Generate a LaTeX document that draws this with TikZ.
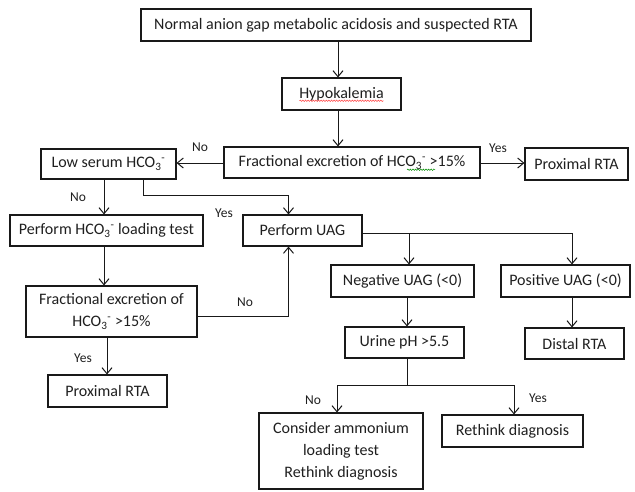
\documentclass[tikz,border=0pt]{standalone}
\usepackage{fontspec}
\setmainfont{Carlito}
\usetikzlibrary{arrows.meta,calc,decorations.pathmorphing}
\newcommand\hcoion{HCO\textsubscript{3}\textsuperscript{-}}
\begin{document}
\begin{tikzpicture}[x=1pt,y=-1pt,
  box/.style={draw=black!90, line width=1.1pt, inner sep=0pt, align=center,
    text=black!88, font=\fontsize{16}{22}\selectfont},
  lbl/.style={text=black!88, font=\fontsize{13.5}{16}\selectfont, inner sep=0pt},
  arr/.style={draw=black!90, line width=1pt, -{Straight Barb[length=6pt,width=10pt]}},
  ln/.style={draw=black!90, line width=1pt},
  squig/.style={decorate, decoration={snake, amplitude=0.7pt, segment length=2.6pt}, line width=0.5pt}]
\useasboundingbox (0,0) rectangle (635,491);
% columns and rows
\coordinate (cA) at (338,0);
\coordinate (cB) at (104,0);
\coordinate (cB2) at (107,0);
\coordinate (cC) at (143,0);
\coordinate (cD) at (288.5,0);
\coordinate (cE) at (409,0);
\coordinate (cF) at (572,0);
\coordinate (cG) at (407,0);
\coordinate (cH) at (337,0);
\coordinate (cI) at (514,0);
\coordinate (r1) at (0,163);
\coordinate (rY) at (0,195);
\coordinate (rU) at (0,233);
\coordinate (rN) at (0,316);
\coordinate (rJ) at (0,385);
% nodes
\node[box, minimum width=390pt, minimum height=32pt] (top) at (336,25) {Normal anion gap metabolic acidosis and suspected RTA};
\node[box, minimum width=119pt, minimum height=32pt] (hypo) at (341.5,94) {Hypokalemia};
\node[box, minimum width=256pt, minimum height=31pt] (frac1) at (352,162.5) {Fractional excretion of \hcoion\ >15\%};
\node[box, minimum width=103pt, minimum height=32pt] (prox1) at (576.5,164) {Proximal RTA};
\node[box, minimum width=135pt, minimum height=30pt] (low) at (108.5,164) {Low serum \hcoion};
\node[box, minimum width=193pt, minimum height=31pt] (load) at (106.5,230.5) {Perform \hcoion\ loading test};
\node[box, minimum width=119pt, minimum height=31pt] (uag) at (302.5,230.5) {Perform UAG};
\node[box, minimum width=143pt, minimum height=32pt] (neg) at (402.5,281) {Negative UAG (<0)};
\node[box, minimum width=129pt, minimum height=32pt] (pos) at (565.5,281) {Positive UAG (<0)};
\node[box, minimum width=119pt, minimum height=31pt] (urine) at (404.5,342.5) {Urine pH >5.5};
\node[box, minimum width=99pt, minimum height=31pt] (distal) at (574.5,343.5) {Distal RTA};
\node[box, minimum width=171pt, minimum height=51pt] (frac2) at (111.5,311.5) {Fractional excretion of\\\hcoion\ >15\%};
\node[box, minimum width=119pt, minimum height=32pt] (prox2) at (107.5,391) {Proximal RTA};
\node[box, minimum width=164pt, minimum height=76pt] (consider) at (341,451) {Consider ammonium\\loading test\\Rethink diagnosis};
\node[box, minimum width=141pt, minimum height=32pt] (rethink) at (512.5,431) {Rethink diagnosis};
% spelling marks
\draw[red!75, squig] ($(hypo.base)+(-42,2.5)$) -- ($(hypo.base)+(42,2.5)$);
\draw[green!55!black, squig] ($(frac1.base)+(55,3)$) -- ($(frac1.base)+(83,3)$);
% connectors
\draw[arr] (top.south -| cA) -- (hypo.north -| cA);
\draw[arr] (hypo.south -| cA) -- (frac1.north -| cA);
\draw[arr] (frac1.west |- r1) -- (low.east |- r1);
\draw[arr] (frac1.east |- r1) -- (prox1.west |- r1);
\draw[arr] (low.south -| cB) -- (load.north -| cB);
\draw[arr] (low.south -| cC) -- (cC |- rY) -- (cD |- rY) -- (uag.north -| cD);
\draw[arr] (load.south -| cB) -- (frac2.north -| cB);
\draw[arr] (frac2.east |- rN) -| (uag.south -| cD);
\draw[arr] (frac2.south -| cB2) -- (prox2.north -| cB2);
\draw[ln] (uag.east |- rU) -- (cF |- rU);
\draw[arr] (cF |- rU) -- (pos.north -| cF);
\draw[arr] (cE |- rU) -- (neg.north -| cE);
\draw[arr] (neg.south -| cG) -- (urine.north -| cG);
\draw[arr] (pos.south -| cF) -- (distal.north -| cF);
\draw[ln] (urine.south -| cG) -- (cG |- rJ);
\draw[arr] (cG |- rJ) -| (consider.north -| cH);
\draw[arr] (cG |- rJ) -| (rethink.north -| cI);
% labels
\node[lbl] (l1) at (200,147) {No};
\node[lbl] (l2) at (498,148) {Yes};
\node[lbl] (l3) at (78,197) {No};
\node[lbl] (l4) at (224,213) {Yes};
\node[lbl] (l5) at (245,302) {No};
\node[lbl] (l6) at (83,358) {Yes};
\node[lbl] (l7) at (313,400) {No};
\node[lbl] (l8) at (538,398) {Yes};
\end{tikzpicture}
\end{document}
